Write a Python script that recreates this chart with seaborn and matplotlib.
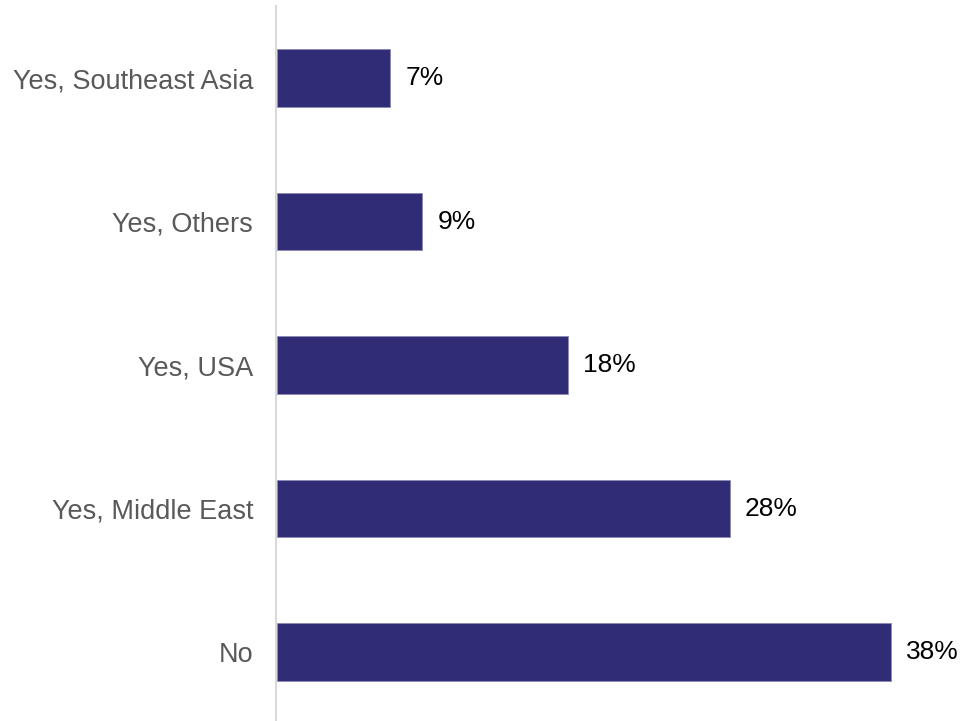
import matplotlib
matplotlib.use("Agg")
import matplotlib.pyplot as plt
import seaborn as sns
import pandas as pd

categories = ["Yes, Southeast Asia", "Yes, Others", "Yes, USA", "Yes, Middle East", "No"]
shares = [7, 9, 18, 28, 38]

sns.set_theme(style="white")
plt.rcParams["font.family"] = ["Liberation Sans", "DejaVu Sans"]

df = pd.DataFrame({"category": categories, "share": shares})

fig = plt.figure(figsize=(9.66, 7.21), dpi=100)
ax = fig.add_axes([0.2867, 0.0, 0.6693, 0.9917])

bar_color = "#302C75"
sns.barplot(data=df, x="share", y="category", order=categories, color=bar_color,
            saturation=1, width=0.4, edgecolor="#8C8AB5", linewidth=0.6, ax=ax)

for cont in ax.containers:
    labels = [f"{v:g}%" for v in cont.datavalues]
    ax.bar_label(cont, labels=labels, padding=11, fontsize=19, color="#000000")

ax.set_xlim(0, 40)
ax.set_ylim(4.48, -0.502)
ax.set_xlabel("")
ax.set_ylabel("")
ax.set_xticks([])
ax.tick_params(axis="y", length=0, pad=16.5, labelsize=19.5, labelcolor="#595959")

for side in ["top", "right", "bottom"]:
    ax.spines[side].set_visible(False)
ax.spines["left"].set_color("#D9D9D9")
ax.spines["left"].set_linewidth(1.5)
ax.spines["left"].set_position(("data", -0.05))

fig.savefig("out.png", dpi=100)
